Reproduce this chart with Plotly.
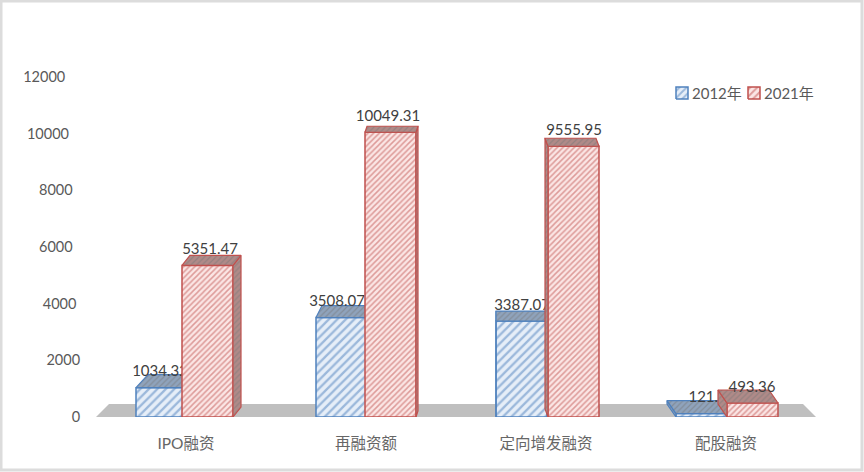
import plotly.graph_objects as go

categories = ["IPO融资", "再融资额", "定向增发融资", "配股融资"]
series_names = ["2012年", "2021年"]
values_2012 = [1034.32, 3508.07, 3387.07, 121.35]
values_2021 = [5351.47, 10049.31, 9555.95, 493.36]
y_ticks = [0, 2000, 4000, 6000, 8000, 10000, 12000]

# plot area in pixels, everything 3d-ish is worked out from these
W, H = 864, 472
LEFT, RIGHT, TOP, BOTTOM = 96, 816, 77, 417
PX_X = (RIGHT - LEFT) / 4
PX_Y = (BOTTOM - TOP) / 12000

BLUE, RED = "#4f81bd", "#c0504d"
LATIN = "Lato, Noto Sans CJK SC"
BAR_W = 51 / PX_X
# left edge of each bar relative to the category centre, px
blue_left = [-50, -50, -50, -50]
red_left = [-4, -1, 2, 1]
# how far the back of the bar leans, px
blue_dx = [12, 6, 0, -9]
red_dx = [8, 2, -3, -9]
blue_dy = [13, 12, 10, 13]
red_dy = [10, 6, 8, 13]
# label offset from the category centre, px
blue_label_x = [-26, -29, -24, -14]
red_label_x = [24, 22, 28, 26]
LABEL_UP = 15
# the y labels drift left going up (perspective), done with trailing nbsp
tick_pad = [0, 0, 1, 2, 2, 3, 4]


def faces(i, left, value, depth_x, depth_y):
    x0 = i + left / PX_X
    x1 = x0 + BAR_W
    dx = depth_x[i] / PX_X
    dy = depth_y[i] / PX_Y
    top_x = [x0, x0 + dx, x1 + dx, x1, x0]
    top_y = [value, value + dy, value + dy, value, value]
    edge = x1 if dx > 0 else x0
    side_x = [edge, edge + dx, edge + dx, edge, edge]
    side_y = [0, dy, value + dy, value, 0]
    return top_x, top_y, side_x, side_y


def add_series(fig, name, values, left, label_x, dx, dy, color, bg, top_bg, xa, ya, size):
    fig.add_trace(go.Bar(
        x=list(range(4)), y=values, name=name, width=BAR_W,
        offset=[v / PX_X for v in left], showlegend=False,
        marker=dict(color=bg, line=dict(color=color, width=1.5),
                    pattern=dict(shape="/", fgcolor=color, bgcolor=bg, size=size, solidity=0.38)),
        xaxis=xa, yaxis=ya))
    for i, v in enumerate(values):
        top_x, top_y, side_x, side_y = faces(i, left[i], v, dx, dy)
        for fx, fy in [(side_x, side_y), (top_x, top_y)]:
            fig.add_trace(go.Scatter(
                x=fx, y=fy, mode="lines", fill="toself", showlegend=False, hoverinfo="skip",
                line=dict(color=color, width=1.2),
                fillcolor=top_bg,
                fillpattern=dict(shape="/", fgcolor="#777777", bgcolor=top_bg, size=4, solidity=0.3),
                xaxis=xa, yaxis=ya))
    fig.add_trace(go.Scatter(
        x=[i + label_x[i] / PX_X for i in range(4)],
        y=[v + LABEL_UP / PX_Y for v in values],
        text=[f"{v:.2f}" for v in values],
        mode="text", textposition="middle center", showlegend=False, hoverinfo="skip",
        textfont=dict(family=LATIN, size=15, color="#404040"),
        cliponaxis=False, xaxis=xa, yaxis=ya))


def add_key(fig, name, px, color, bg):
    # small legend swatch + text, the built-in legend leaves too wide a gap here
    x0 = (px - LEFT) / PX_X - 0.5
    x1 = x0 + 12 / PX_X
    y0 = (BOTTOM - 99) / PX_Y
    y1 = y0 + 12 / PX_Y
    fig.add_trace(go.Scatter(
        x=[x0, x1, x1, x0, x0], y=[y0, y0, y1, y1, y0], mode="lines", fill="toself",
        showlegend=False, hoverinfo="skip", line=dict(color=color, width=1.5), fillcolor=bg,
        fillpattern=dict(shape="/", fgcolor=color, bgcolor=bg, size=5, solidity=0.4),
        xaxis="x2", yaxis="y2"))
    fig.add_annotation(x=x1 + 2 / PX_X, y=(y0 + y1) / 2, xref="x2", yref="y2", text=name, showarrow=False,
                       xanchor="left", yanchor="middle",
                       font=dict(family=LATIN, size=15, color="#595959"))


fig = go.Figure()
add_series(fig, series_names[0], values_2012, blue_left, blue_label_x, blue_dx, blue_dy,
           BLUE, "#e6eef8", "#8fa3bc", "x", "y", 6)
add_series(fig, series_names[1], values_2021, red_left, red_label_x, red_dx, red_dy,
           RED, "#fbe6e5", "#b08a88", "x2", "y2", 4)
add_key(fig, series_names[0], 676, BLUE, "#e6eef8")
add_key(fig, series_names[1], 748, RED, "#fbe6e5")

# grey floor under the bars
floor_h = 13 / PX_Y
floor_in = 13 / PX_X
fig.add_shape(type="path", xref="x", yref="y", layer="below", fillcolor="#bfbfbf", line_width=0,
              path=f"M -0.5 0 L {-0.5 + floor_in} {floor_h} L {3.5 - floor_in} {floor_h} L 3.5 0 Z")
# chart frame
fig.add_shape(type="rect", xref="paper", yref="paper", layer="below", fillcolor="white",
              line=dict(color="#dcdcdc", width=3),
              x0=(1 - LEFT) / (RIGHT - LEFT), x1=(862 - LEFT) / (RIGHT - LEFT),
              y0=(BOTTOM - 470) / (BOTTOM - TOP), y1=(BOTTOM - 1) / (BOTTOM - TOP))

font = dict(family=LATIN, size=14.5, color="#595959")
fig.update_layout(
    width=W, height=H,
    margin=dict(l=LEFT, r=W - RIGHT, t=TOP, b=H - BOTTOM, pad=0),
    paper_bgcolor="white", plot_bgcolor="rgba(0,0,0,0)",
    font=font,
    barmode="overlay",
    showlegend=False,
    xaxis=dict(range=[-0.5, 3.5], tickmode="array", tickvals=list(range(4)), ticktext=categories,
               showgrid=False, zeroline=False, showline=False, ticks="outside", ticklen=12,
               tickcolor="rgba(0,0,0,0)", tickfont=dict(family=LATIN, size=15.5, color="#666666")),
    yaxis=dict(range=[0, 12000], tickmode="array", tickvals=y_ticks,
               ticktext=[str(t) + "\u00a0" * p for t, p in zip(y_ticks, tick_pad)],
               showgrid=False, zeroline=False, showline=False, ticks="outside", ticklen=12,
               tickcolor="rgba(0,0,0,0)"),
    xaxis2=dict(range=[-0.5, 3.5], overlaying="x", visible=False),
    yaxis2=dict(range=[0, 12000], overlaying="y", visible=False),
)

fig.write_html("out.html", config={"displayModeBar": False}, post_script="document.body.style.margin=0;")
